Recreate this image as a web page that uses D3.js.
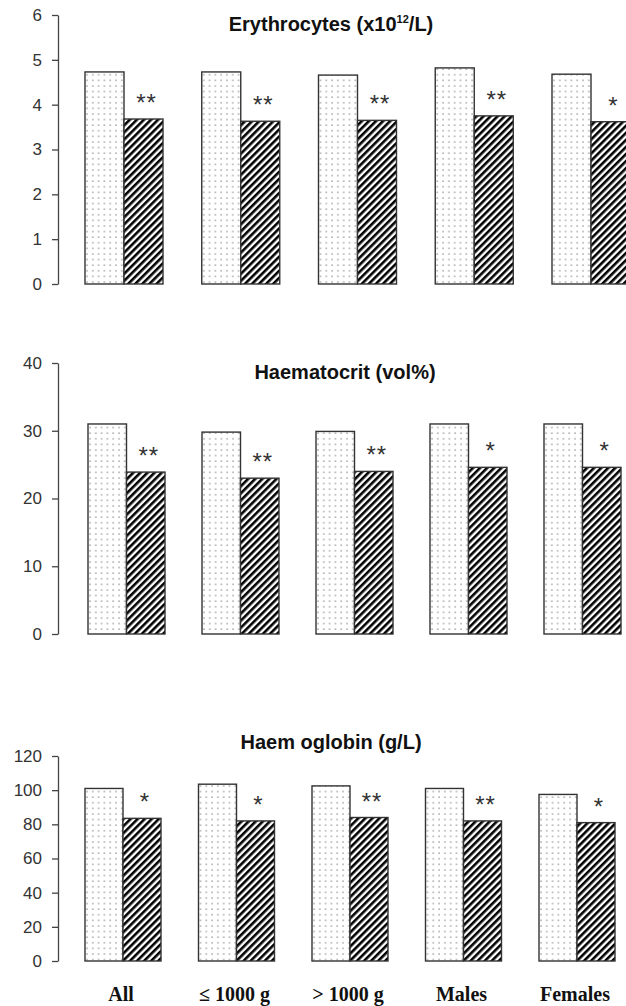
<!DOCTYPE html>
<html>
<head>
<meta charset="utf-8">
<script src="https://cdn.jsdelivr.net/npm/d3@7"></script>
<style>
  html, body { margin: 0; padding: 0; background: #fff; }
  svg { display: block; }
</style>
</head>
<body>
<svg id="chart" width="626" height="1006"></svg>
<script>
// ---- data ----
const categories = ["All", "\u2264 1000 g", "> 1000 g", "Males", "Females"];
const series = ["before", "after"];

const erythrocytesBefore = [4.73, 4.73, 4.66, 4.82, 4.68];
const erythrocytesAfter  = [3.68, 3.63, 3.65, 3.75, 3.62];
const erythrocytesStars  = ["**", "**", "**", "**", "*"];
const erythrocytesTicks  = [0, 1, 2, 3, 4, 5, 6];

const haematocritBefore = [31.0, 29.8, 29.9, 31.0, 31.0];
const haematocritAfter  = [23.9, 23.0, 24.0, 24.6, 24.6];
const haematocritStars  = ["**", "**", "**", "*", "*"];
const haematocritTicks  = [0, 10, 20, 30, 40];

const haemoglobinBefore = [101, 103.5, 102.5, 101, 97.5];
const haemoglobinAfter  = [83.5, 82, 84, 82, 81];
const haemoglobinStars  = ["*", "*", "**", "**", "*"];
const haemoglobinTicks  = [0, 20, 40, 60, 80, 100, 120];

// ---- layout ----
const panels = [
  { title: "erythro", before: erythrocytesBefore, after: erythrocytesAfter, stars: erythrocytesStars,
    ticks: erythrocytesTicks, yRange: [284, 15], xRange: [85, 552], bw: 39, titleX: 331, titleY: 31 },
  { title: "Haematocrit (vol%)", before: haematocritBefore, after: haematocritAfter, stars: haematocritStars,
    ticks: haematocritTicks, yRange: [634, 363], xRange: [88, 544], bw: 38.5, titleX: 345, titleY: 379 },
  { title: "Haem oglobin (g/L)", before: haemoglobinBefore, after: haemoglobinAfter, stars: haemoglobinStars,
    ticks: haemoglobinTicks, yRange: [961, 756], xRange: [85, 539], bw: 38, titleX: 331, titleY: 749 }
];
const axisX = 58;

const svg = d3.select("#chart");
const defs = svg.append("defs");

// dotted pattern
const dots = defs.append("pattern").attr("id", "dots")
  .attr("patternUnits", "userSpaceOnUse").attr("width", 5.8).attr("height", 5.6);
dots.append("rect").attr("width", 5.8).attr("height", 5.6).attr("fill", "#fff");
dots.append("circle").attr("cx", 2).attr("cy", 2).attr("r", 0.75).attr("fill", "#8a8a8a");

// hatch pattern
const hatch = defs.append("pattern").attr("id", "hatch")
  .attr("patternUnits", "userSpaceOnUse").attr("width", 5).attr("height", 10)
  .attr("patternTransform", "rotate(45)");
hatch.append("rect").attr("width", 5).attr("height", 10).attr("fill", "#fff");
hatch.append("rect").attr("width", 2.6).attr("height", 10).attr("fill", "#000");

const fills = { before: "url(#dots)", after: "url(#hatch)" };

panels.forEach((p) => {
  const ymax = p.ticks[p.ticks.length - 1];
  const y = d3.scaleLinear().domain([0, ymax]).range(p.yRange);
  const xg = d3.scalePoint().domain(categories).range(p.xRange);
  const xs = d3.scaleBand().domain(series).range([0, p.bw * 2]).padding(0);

  const g = svg.append("g");

  // axis
  const ax = g.append("g").attr("transform", `translate(${axisX},0)`)
    .call(d3.axisLeft(y).tickValues(p.ticks).tickFormat(d3.format("d"))
      .tickSize(6).tickSizeOuter(0).tickPadding(10));
  ax.select(".domain").attr("stroke", "#444").attr("stroke-width", 1.3);
  ax.selectAll(".tick line").attr("stroke", "#444").attr("stroke-width", 1.3);
  ax.selectAll(".tick text").attr("font-family", "'Liberation Sans', Arial, sans-serif")
    .attr("font-size", 17).attr("fill", "#333");

  // bars
  const rows = categories.map((c, i) => ({ c, i, before: p.before[i], after: p.after[i], star: p.stars[i] }));
  const grp = g.selectAll(".grp").data(rows).enter().append("g")
    .attr("transform", d => `translate(${xg(d.c)},0)`);
  series.forEach((s) => {
    grp.append("rect")
      .attr("x", xs(s))
      .attr("y", d => y(d[s]))
      .attr("width", xs.bandwidth())
      .attr("height", d => y(0) - y(d[s]))
      .attr("fill", fills[s])
      .attr("stroke", "#333")
      .attr("stroke-width", 1.4);
  });
  grp.append("text")
    .attr("x", xs("after") + xs.bandwidth() / 2 + 3)
    .attr("y", d => y(d.after) - 8)
    .attr("text-anchor", "middle")
    .attr("font-family", "'Liberation Sans', Arial, sans-serif")
    .attr("font-size", 24).attr("letter-spacing", 1).attr("fill", "#333")
    .text(d => d.star);

  // title
  const t = g.append("text").attr("x", p.titleX).attr("y", p.titleY)
    .attr("text-anchor", "middle")
    .attr("font-family", "'Liberation Sans', Arial, sans-serif")
    .attr("font-weight", "bold").attr("font-size", 20).attr("fill", "#111");
  if (p.title === "erythro") {
    t.append("tspan").text("Erythrocytes (x10");
    t.append("tspan").attr("font-size", 11).attr("dy", -8).text("12");
    t.append("tspan").attr("dy", 8).text("/L)");
  } else {
    t.text(p.title);
  }

  // category labels on the bottom panel only
  if (p === panels[2]) {
    g.selectAll(".cat").data(categories).enter().append("text")
      .attr("x", d => xg(d) + p.bw - 2)
      .attr("y", 1001)
      .attr("text-anchor", "middle")
      .attr("font-family", "'Liberation Serif', 'Times New Roman', serif")
      .attr("font-weight", "bold").attr("font-size", 20).attr("fill", "#111")
      .text(d => d);
  }
});
</script>
</body>
</html>
